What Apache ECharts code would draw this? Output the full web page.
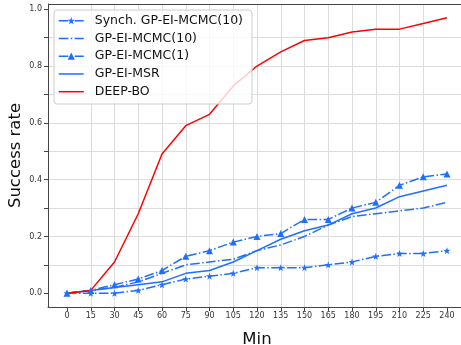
<!DOCTYPE html>
<html><head><meta charset="utf-8">
<script src="https://cdn.jsdelivr.net/npm/echarts@6/dist/echarts.min.js"></script>
<style>html,body{margin:0;padding:0;background:#fff;overflow:hidden}#c{width:461px;height:345px}</style>
</head><body><div id="c"></div>
<script>
const minutes = [0,15,30,45,60,75,90,105,120,135,150,165,180,195,210,225,240];
const synchMCMC10 = [0,0,0,0.01,0.03,0.05,0.06,0.07,0.09,0.09,0.09,0.10,0.11,0.13,0.14,0.14,0.15];
const mcmc10 = [0,0.01,0.02,0.04,0.07,0.10,0.11,0.12,0.15,0.17,0.20,0.24,0.27,0.28,0.29,0.30,0.32];
const mcmc1 = [0,0.01,0.03,0.05,0.08,0.13,0.15,0.18,0.20,0.21,0.26,0.26,0.30,0.32,0.38,0.41,0.42];
const msr = [0,0.01,0.02,0.03,0.04,0.07,0.08,0.11,0.15,0.19,0.22,0.24,0.28,0.30,0.34,0.36,0.38];
const deepBO = [0,0.01,0.11,0.28,0.49,0.59,0.63,0.73,0.80,0.85,0.89,0.90,0.92,0.93,0.93,0.95,0.97];
const names = ['Synch. GP-EI-MCMC(10)','GP-EI-MCMC(10)','GP-EI-MCMC(1)','GP-EI-MSR','DEEP-BO'];
const yTicks = [0,0.1,0.2,0.3,0.4,0.5,0.6,0.7,0.8,0.9,1.0];
const yLabels = [0,0.2,0.4,0.6,0.8,1.0];

const BLUE = '#1f6fff', RED = '#ff0000';
const DASHDOT = [9.6,2.4,1.5,2.4];
const STAR = 'path://M100,0 L123.5,67.6 L195.1,69.1 L138,112.4 L158.8,180.9 L100,140 L41.2,180.9 L62,112.4 L4.9,69.1 L76.5,67.6 Z';
const FONT = 'DejaVu Sans';
const pair = a => minutes.map((m,i)=>[m,a[i]]);

function mk(name, data, color, type, symbol, size){
  return {
    name, type:'line', data: pair(data), color,
    symbol: symbol || 'none', symbolSize: size || 0, showSymbol: !!symbol,
    lineStyle:{color, width:1.5, type: type},
    itemStyle:{color},
    animation:false, z: 3
  };
}
function leg(name, type, hasSymbol){
  const o = {name, lineStyle:{type:type, width:1.5}};
  if (!hasSymbol) o.itemStyle = {opacity:0};
  return o;
}

const chart = echarts.init(document.getElementById('c'));
chart.setOption({
  animation:false,
  backgroundColor:'#fff',
  grid:{left:48, top:4, right:-20, bottom:38, containLabel:false, outerBoundsMode:'none'},
  legend:{
    orient:'vertical', left:54, top:10,
    data: [
      leg(names[0], DASHDOT, true),
      leg(names[1], DASHDOT, false),
      leg(names[2], DASHDOT, true),
      leg(names[3], 'solid', false),
      leg(names[4], 'solid', false)
    ],
    itemWidth:25, itemHeight:9, itemGap:3.75,
    padding:[3.7,9,5.3,4],
    backgroundColor:'rgba(255,255,255,0.8)',
    borderColor:'#cccccc', borderWidth:1, borderRadius:3,
    textStyle:{fontFamily:FONT, fontSize:12.5, lineHeight:14, color:'#111', padding:[0,0,0,6]},
    z: 10
  },
  xAxis:{
    type:'value', min:-12, max:261.47,
    name:'Min', nameLocation:'middle', nameGap:24, nameMoveOverlap:false,
    nameTextStyle:{fontFamily:FONT, fontSize:16.5, color:'#111', padding:[0,0,0,-15]},
    axisLine:{show:true, onZero:false, lineStyle:{color:'#444', width:1}},
    axisTick:{show:true, inside:false, length:4, customValues: minutes, lineStyle:{color:'#444'}},
    axisLabel:{customValues: minutes, fontFamily:FONT, fontSize:8, color:'#333', margin:5},
    splitLine:{show:true, showMinLine:false, showMaxLine:false, lineStyle:{color:'#dcdcdc', width:1}}
  },
  yAxis:{
    type:'value', min:-0.0485, max:1.0185,
    name:'Success rate', nameLocation:'middle', nameGap:24, nameMoveOverlap:false,
    nameTextStyle:{fontFamily:FONT, fontSize:16.5, color:'#111'},
    axisLine:{show:true, onZero:false, lineStyle:{color:'#444', width:1}},
    axisTick:{show:true, inside:false, length:4, customValues: yTicks, lineStyle:{color:'#444'}},
    axisLabel:{customValues: yLabels, formatter: v=>v.toFixed(1), fontFamily:FONT, fontSize:8, color:'#333', margin:6},
    splitLine:{show:true, showMinLine:false, showMaxLine:false, lineStyle:{color:'#dcdcdc', width:1}}
  },
  graphic:[{type:'line', shape:{x1:48,y1:4.5,x2:470,y2:4.5}, style:{stroke:'#444', lineWidth:1}, z:100, silent:true}],
  series:[
    mk(names[0], synchMCMC10, BLUE, DASHDOT, STAR, 7),
    mk(names[1], mcmc10, BLUE, DASHDOT),
    mk(names[2], mcmc1, BLUE, DASHDOT, 'triangle', 7),
    mk(names[3], msr, BLUE, 'solid'),
    mk(names[4], deepBO, RED, 'solid')
  ]
});
</script></body></html>
